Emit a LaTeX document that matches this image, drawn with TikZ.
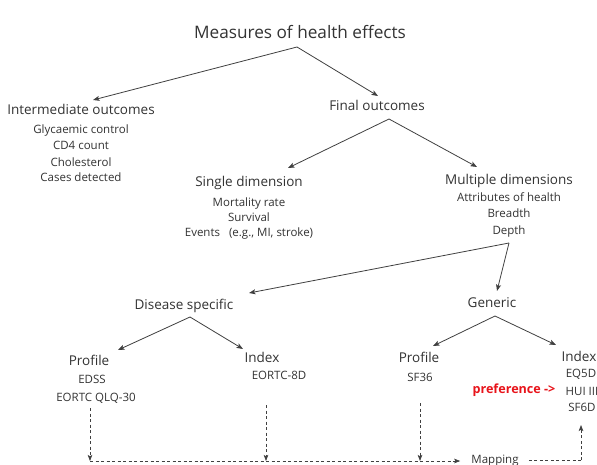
\documentclass[tikz,border=0pt]{standalone}
\usepackage{fontspec}
\setmainfont{Open Sans}
\usetikzlibrary{arrows.meta,calc}
\definecolor{ink}{HTML}{333333}
\definecolor{lineclr}{HTML}{404040}
\definecolor{prefred}{HTML}{E8141B}
\tikzset{
  txt/.style={inner sep=0pt, text depth=0pt, text=ink},
  ttl/.style={txt, text height=12.3bp, font=\fontsize{17.2bp}{19bp}\selectfont},
  hd/.style={txt, text height=9.7bp, font=\fontsize{13.5bp}{16bp}\selectfont},
  itm/.style={txt, text height=8.3bp, font=\fontsize{11.5bp}{14bp}\selectfont},
  preftxt/.style={txt, text height=8.8bp, text=prefred, font=\bfseries\fontsize{12.6bp}{14bp}\selectfont},
  arr/.style={draw=lineclr, line width=0.8bp, -{Stealth[length=6.5bp,width=5bp,inset=1.5bp]}},
  darr/.style={draw=lineclr, line width=0.7bp, dash pattern=on 3bp off 2.5bp, -{Stealth[length=6bp,width=4.5bp,inset=1.2bp]}},
  dline/.style={draw=lineclr, line width=0.7bp, dash pattern=on 3bp off 2.5bp},
}
\begin{document}
\begin{tikzpicture}[x=1bp,y=-1bp]
\useasboundingbox (0,0) rectangle (597,465);
\fill[white] (0,0) rectangle (597,465);

\node[ttl] (title) at (300,32) {Measures of health effects};

\node[hd] (io) at (81,110) {Intermediate outcomes};
\node[itm] (i1) at (81,129) {Glycaemic control};
\node[itm] (i2) at (81,145) {CD4 count};
\node[itm] (i3) at (81,162) {Cholesterol};
\node[itm] (i4) at (81,177) {Cases detected};

\node[hd] (fo) at (377,106) {Final outcomes};

\node[hd] (sd) at (249,182) {Single dimension};
\node[itm] (s1) at (249,202) {Mortality rate};
\node[itm] (s2) at (249,217) {Survival};
\node[itm] (s3) at (249,232) {Events\ \ \ (e.g., MI, stroke)};

\node[hd] (md) at (509,180) {Multiple dimensions};
\node[itm] (m1) at (509,197) {Attributes of health};
\node[itm] (m2) at (509,213) {Breadth};
\node[itm] (m3) at (509,230) {Depth};

\node[hd] (ds) at (184,305) {Disease specific};
\node[hd] (ge) at (492,303) {Generic};

\node[hd] (pl) at (89,361) {Profile};
\node[itm] (pl1) at (92,379) {EDSS};
\node[itm] (pl2) at (96,397) {EORTC QLQ-30};

\node[hd] (il) at (262,358) {Index};
\node[itm] (il1) at (279,375) {EORTC-8D};

\node[hd] (pr) at (419,358) {Profile};
\node[itm] (pr1) at (420,377) {SF36};

\node[hd] (ir) at (579,357) {Index};
\node[itm] (ir1) at (581,373) {EQ5D};
\node[itm] (ir2) at (582,391) {HUI III};
\node[itm] (ir3) at (582,407) {SF6D};

\node[preftxt] (pref) at (514,389) {preference ->};

\node[itm] (map) at (495,459) {Mapping};

% solid arrows
\draw[arr] ($(title)+(-3,15)$) -- ($(io)+(12,-10)$);
\draw[arr] ($(title)+(-3,15)$) -- ($(fo)+(1,-10)$);
\draw[arr] ($(fo)+(12,13)$) -- ($(sd)+(39,-14)$);
\draw[arr] ($(fo)+(12,13)$) -- ($(md)+(-32,-13)$);
\draw[arr] ($(m3)+(0,13)$) -- ($(ds)+(65,-12)$);
\draw[arr] ($(m3)+(0,13)$) -- ($(ge)+(5,-12)$);
\draw[arr] ($(ds)+(6,12)$) -- ($(pl)+(29,-11)$);
\draw[arr] ($(ds)+(6,12)$) -- ($(il)+(-19,-9)$);
\draw[arr] ($(ge)+(3,13)$) -- ($(pr)+(14,-12)$);
\draw[arr] ($(ge)+(3,13)$) -- ($(ir)+(-23,-12)$);

% dashed mapping arrows
\coordinate (hl) at (90,461);
\coordinate (hm) at (266,461);
\coordinate (hr) at (420,461);
\coordinate (cr) at (581,460);
\draw[darr] ($(pl2)+(-6,11)$) -- (hl);
\draw[darr] ($(il1)+(-13,30)$) -- (hm);
\draw[darr] ($(pr1)+(0,26)$) -- (hr);
\draw[darr] (hl) -- ($(map.west)+(-11,2)$);
\draw[dline] ($(map.east)+(10,1)$) -- (cr);
\draw[darr] (cr) -- ($(ir3)+(-1,18)$);
\end{tikzpicture}
\end{document}
